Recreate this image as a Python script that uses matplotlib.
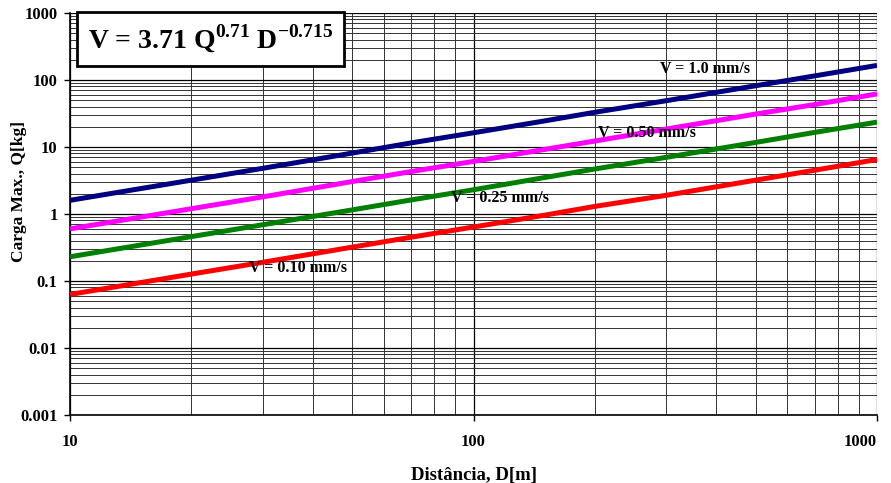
import matplotlib.pyplot as plt
from matplotlib.ticker import FixedLocator, FixedFormatter, NullFormatter

plt.rcParams['font.family'] = ['Liberation Serif', 'DejaVu Serif']
plt.rcParams['font.weight'] = 'bold'
plt.rcParams['mathtext.fontset'] = 'custom'
plt.rcParams['mathtext.rm'] = 'Liberation Serif:bold'
plt.rcParams['mathtext.bf'] = 'Liberation Serif:bold'

# distances
dist = [10, 20, 30, 50, 70, 100, 150, 200, 300, 500, 700, 1000]
# max charge per delay for each vibration velocity
q_v100 = [1.6, 3.2, 4.8, 8.1, 11.5, 16.3, 24.5, 33, 49, 82, 115, 165]
q_v050 = [0.6, 1.2, 1.8, 3.05, 4.3, 6.1, 9.2, 12.3, 18.5, 31, 43, 62]
q_v025 = [0.23, 0.46, 0.69, 1.15, 1.62, 2.3, 3.5, 4.7, 7.0, 11.7, 16.5, 23.5]
q_v010 = [0.063, 0.127, 0.19, 0.32, 0.45, 0.64, 0.96, 1.3, 1.9, 3.2, 4.5, 6.5]

series = [
    (q_v100, '#000080', 'V = 1.0 mm/s', 375, 146),
    (q_v050, '#FF00FF', 'V = 0.50 mm/s', 269, 16.2),
    (q_v025, '#008000', 'V = 0.25 mm/s', 116, 1.73),
    (q_v010, '#FF0000', 'V = 0.10 mm/s', 36.7, 0.156),
]

y_ticks = [0.001, 0.01, 0.1, 1, 10, 100, 1000]
y_labels = ['0.001', '0.01', '0.1', '1', '10', '100', '1000']
x_ticks = [10, 100, 1000]
x_labels = ['10', '100', '1000']

fig = plt.figure(figsize=(8.91, 4.83), dpi=100)
ax = fig.add_axes([0.0786, 0.1408, 0.9057, 0.8323])
ax.set_xscale('log')
ax.set_yscale('log')
ax.set_xlim(10, 1000)
ax.set_ylim(0.001, 1000)

ax.grid(True, which='major', color='black', lw=0.9)
ax.grid(True, which='minor', color='#333333', lw=0.7)

for q, col, lab, tx, ty in series:
    ax.plot(dist, q, color=col, lw=3.6, solid_capstyle='butt', zorder=3)
    ax.text(tx, ty, lab, fontsize=11.5, fontweight='bold', ha='center', va='center', zorder=4)

ax.yaxis.set_major_locator(FixedLocator(y_ticks))
ax.yaxis.set_major_formatter(FixedFormatter(y_labels))
ax.xaxis.set_major_locator(FixedLocator(x_ticks))
ax.xaxis.set_major_formatter(FixedFormatter(x_labels))
ax.yaxis.set_minor_formatter(NullFormatter())
ax.xaxis.set_minor_formatter(NullFormatter())
ax.tick_params(which='major', length=4, width=1, labelsize=12)
ax.tick_params(axis='x', which='major', pad=10)
ax.tick_params(axis='y', which='major', pad=5)
ax.tick_params(which='minor', length=0)
ax.get_xticklabels()[-1].set_horizontalalignment('right')

for s in ['top', 'right']:
    ax.spines[s].set_visible(False)
ax.spines['left'].set_linewidth(1.2)
ax.spines['bottom'].set_linewidth(1.2)

ax.set_ylabel('Carga Max., Q[kg]', fontsize=12.5, fontweight='bold')
ax.yaxis.set_label_coords(-0.053, 0.555)
ax.set_xlabel('Distância, D[m]', fontsize=13.5, fontweight='bold', labelpad=12)

ax.text(0.022, 0.935, r'V = 3.71 Q$^{\mathbf{0.71}}$ D$^{\mathbf{-0.715}}$',
        transform=ax.transAxes, fontsize=20, fontweight='bold', va='center', ha='left',
        zorder=5,
        bbox=dict(boxstyle='square,pad=0.4', facecolor='white', edgecolor='black', lw=2))

fig.savefig('out.png', dpi=100)
